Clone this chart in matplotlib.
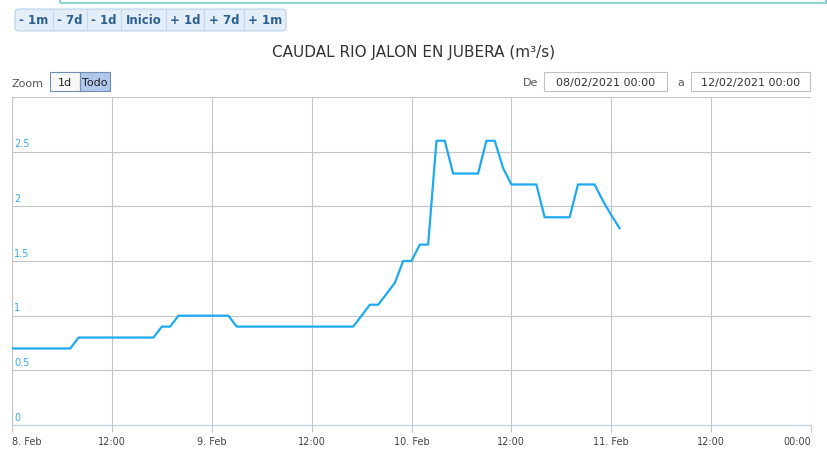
import numpy as np
import pandas as pd
import matplotlib.pyplot as plt
from matplotlib.patches import Rectangle, FancyBboxPatch

# hourly flow values starting 08/02/2021 00:00
caudal = [0.7, 0.7, 0.7, 0.7, 0.7, 0.7, 0.7, 0.7,
          0.8, 0.8, 0.8, 0.8, 0.8, 0.8, 0.8, 0.8, 0.8, 0.8,
          0.9, 0.9,
          1.0, 1.0, 1.0, 1.0, 1.0, 1.0, 1.0,
          0.9, 0.9, 0.9, 0.9, 0.9, 0.9, 0.9, 0.9, 0.9, 0.9, 0.9, 0.9, 0.9, 0.9, 0.9,
          1.0, 1.1, 1.1, 1.2, 1.3, 1.5, 1.5, 1.65, 1.65,
          2.6, 2.6, 2.3, 2.3, 2.3, 2.3, 2.6, 2.6, 2.35,
          2.2, 2.2, 2.2, 2.2, 1.9, 1.9, 1.9, 1.9,
          2.2, 2.2, 2.2, 2.05, 1.92, 1.8]
fechas = pd.date_range("2021-02-08 00:00", periods=len(caudal), freq="h")

tick_labels = ["8. Feb", "12:00", "9. Feb", "12:00", "10. Feb", "12:00",
               "11. Feb", "12:00", "00:00"]
ticks = pd.date_range("2021-02-08 00:00", "2021-02-12 00:00", freq="12h")
ytick_vals = [0, 0.5, 1, 1.5, 2, 2.5]
botones = ["- 1m", "- 7d", "- 1d", "Inicio", "+ 1d", "+ 7d", "+ 1m"]
bordes_botones = [15, 53, 87, 121, 166, 204, 244, 286]

W, H = 828, 452
fig = plt.figure(figsize=(W / 100, H / 100), dpi=100)
plt.rcParams['font.family'] = ['DejaVu Sans']

def fx(x):
    return x / W

def fy(y):
    return 1 - y / H

ax = fig.add_axes([fx(12), fy(426), fx(811) - fx(12), fy(98) - fy(426)])
ax.plot(fechas, caudal, color='#1eaaf1', lw=1.6, solid_joinstyle='round')

ax.set_xlim(ticks[0], ticks[-1])
ax.set_ylim(0, 3)
ax.set_xticks(ticks)
ax.set_xticklabels(tick_labels)
ax.set_yticks(np.arange(0, 3.01, 0.5))
ax.set_yticklabels([])
ax.grid(True, color='#c4c4c4', lw=0.8)
ax.tick_params(axis='x', length=5, color='#c4c4c4', labelsize=7,
               labelcolor='#444444', pad=3)
ax.tick_params(axis='y', length=0)
for s in ['top', 'right', 'left']:
    ax.spines[s].set_visible(False)
ax.spines['bottom'].set_color('#c0d0e0')
labs = ax.get_xticklabels()
labs[0].set_ha('left')
labs[-1].set_ha('right')

for v in ytick_vals:
    ax.text(0.003, v + 0.03, f"{v:g}", transform=ax.get_yaxis_transform(),
            fontsize=7, color='#3aa6ee', ha='left', va='bottom')

# teal frame at the top
fig.patches.append(Rectangle((fx(60), fy(4)), fx(826) - fx(60), 0.05,
                             transform=fig.transFigure, fill=False,
                             ec='#8fd3d3', lw=1.5))

# navigation buttons
fig.patches.append(FancyBboxPatch((fx(15), fy(32)), fx(286) - fx(15), fy(10) - fy(32),
                                  boxstyle="round,pad=0,rounding_size=0.006",
                                  transform=fig.transFigure, fc='#e3eef9',
                                  ec='#b9d2ea', lw=0.8))
for i, b in enumerate(botones):
    x0, x1 = bordes_botones[i], bordes_botones[i + 1]
    if i > 0:
        fig.add_artist(plt.Line2D([fx(x0), fx(x0)], [fy(11), fy(31)],
                                  color='#c5d9ee', lw=0.8))
    fig.text(fx((x0 + x1) / 2), fy(21), b, ha='center', va='center',
             fontsize=8.5, color='#2d5f8f', fontweight='bold')

fig.text(0.5, fy(52), "CAUDAL RIO JALON EN JUBERA (m³/s)", ha='center',
         va='center', fontsize=11, color='#333333')

# zoom selector
fig.text(fx(12), fy(84), "Zoom", ha='left', va='center', fontsize=8,
         color='#555555')
fig.patches.append(Rectangle((fx(50), fy(92)), fx(80) - fx(50), fy(73) - fy(92),
                             transform=fig.transFigure, fc='#f8f8f8',
                             ec='#6f8fb5', lw=0.8))
fig.patches.append(Rectangle((fx(80), fy(92)), fx(110) - fx(80), fy(73) - fy(92),
                             transform=fig.transFigure, fc='#b0c8ec',
                             ec='#6f8fb5', lw=0.8))
fig.text(fx(65), fy(83), "1d", ha='center', va='center', fontsize=8,
         color='#222222')
fig.text(fx(95), fy(83), "Todo", ha='center', va='center', fontsize=8,
         color='#222222')

# date range inputs
fig.text(fx(523), fy(83), "De", ha='left', va='center', fontsize=8,
         color='#555555')
fig.text(fx(677), fy(83), "a", ha='left', va='center', fontsize=8,
         color='#555555')
for x0, x1, t in [(544, 667, "08/02/2021 00:00"), (691, 810, "12/02/2021 00:00")]:
    fig.patches.append(Rectangle((fx(x0), fy(92)), fx(x1) - fx(x0), fy(73) - fy(92),
                                 transform=fig.transFigure, fc='white',
                                 ec='#c0c0c0', lw=0.8))
    fig.text(fx((x0 + x1) / 2), fy(83), t, ha='center', va='center',
             fontsize=8, color='#333333')

fig.savefig("out.png", dpi=100)
